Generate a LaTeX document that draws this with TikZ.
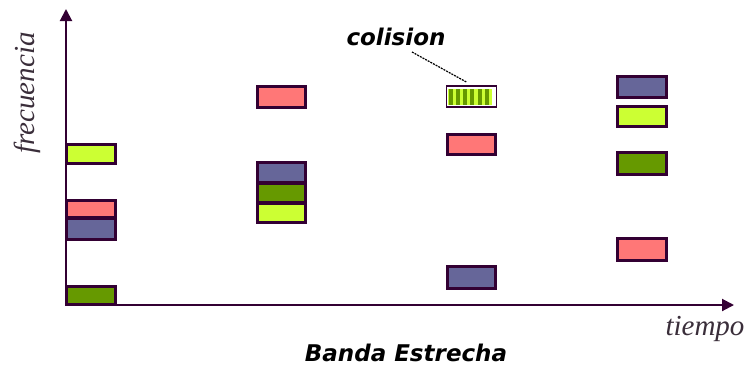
\documentclass[tikz,border=0pt]{standalone}
\usepackage{fontspec}
\setmainfont{Liberation Serif}
\newfontfamily\labelfont{DejaVu Sans}
\usetikzlibrary{arrows.meta}
\definecolor{axiscol}{HTML}{330033}
\definecolor{rosa}{HTML}{FF7777}
\definecolor{azul}{HTML}{666699}
\definecolor{verde}{HTML}{669900}
\definecolor{lima}{HTML}{CCFF33}
\definecolor{textgray}{HTML}{3A2E3A}
\tikzset{
  axis/.style={draw=axiscol, line width=2pt, -{Triangle[length=12pt,width=12pt]}},
  slot/.style={draw=axiscol, line width=2.6pt, minimum width=48.5pt, inner sep=0pt, outer sep=0pt},
  axislabel/.style={font=\fontsize{29}{31}\selectfont\itshape, text=textgray, inner sep=0pt},
  tag/.style={font=\labelfont\fontsize{23}{26}\selectfont\bfseries\itshape, text=black, inner sep=0pt}
}
\begin{document}
\begin{tikzpicture}[x=1pt, y=-1pt]
  \useasboundingbox (0,0) rectangle (746,368);
  % axes
  \coordinate (origin) at (66,305);
  \coordinate (ytop) at (66,9);
  \coordinate (xend) at (734,305);
  \draw[axis] (origin) -- (ytop);
  \draw[axis] (origin) -- (xend);

  % first time slot
  \node[slot, fill=lima,  minimum height=18.5pt] (a1) at (91,154) {};
  \node[slot, fill=rosa,  minimum height=16.5pt] (a2) at (91,209) {};
  \node[slot, fill=azul,  minimum height=20.5pt] (a3) at (91,229) {};
  \node[slot, fill=verde, minimum height=17.5pt] (a4) at (91,295.5) {};

  % second time slot
  \node[slot, fill=rosa,  minimum height=20.5pt] (b1) at (281.5,97) {};
  \node[slot, fill=azul,  minimum height=19.5pt] (b2) at (281.5,172.5) {};
  \node[slot, fill=verde, minimum height=18.5pt] (b3) at (281.5,193) {};
  \node[slot, fill=lima,  minimum height=18.5pt] (b4) at (281.5,213) {};

  % third time slot: the collision slot is hatched
  \node[draw=axiscol, line width=1.8pt, fill=white, minimum width=50pt, minimum height=21.5pt,
        inner sep=0pt] (c1) at (471.5,96.5) {};
  \fill[lima] (448,88.5) rectangle (492,104.5);
  \foreach \i in {0,...,5}
    \fill[verde] ({448.5+7.3*\i},88.5) rectangle ({452.5+7.3*\i},104.5);
  \node[slot, fill=rosa,  minimum height=19.5pt] (c2) at (471.5,144.5) {};
  \node[slot, fill=azul,  minimum height=21.5pt] (c3) at (471.5,277.5) {};

  % fourth time slot
  \node[slot, fill=azul,  minimum height=20.5pt] (d1) at (642,87) {};
  \node[slot, fill=lima,  minimum height=19.5pt] (d2) at (642,116.5) {};
  \node[slot, fill=verde, minimum height=21.5pt] (d3) at (642,163.5) {};
  \node[slot, fill=rosa,  minimum height=21.5pt] (d4) at (642,249.5) {};

  % labels
  \node[axislabel, rotate=90] (freq) at (27,93) {frecuencia};
  \node[axislabel] (time) at (705,329) {tiempo};
  \node[tag] (coll) at (396,37) {colision};
  \node[tag] (title) at (406,353) {Banda Estrecha};

  % pointer to the collision
  \coordinate (lead) at (412,52);
  \draw[black, line width=1.2pt, dash pattern=on 2pt off 1pt, shorten >=6pt] (lead) -- (c1.north);
\end{tikzpicture}
\end{document}
